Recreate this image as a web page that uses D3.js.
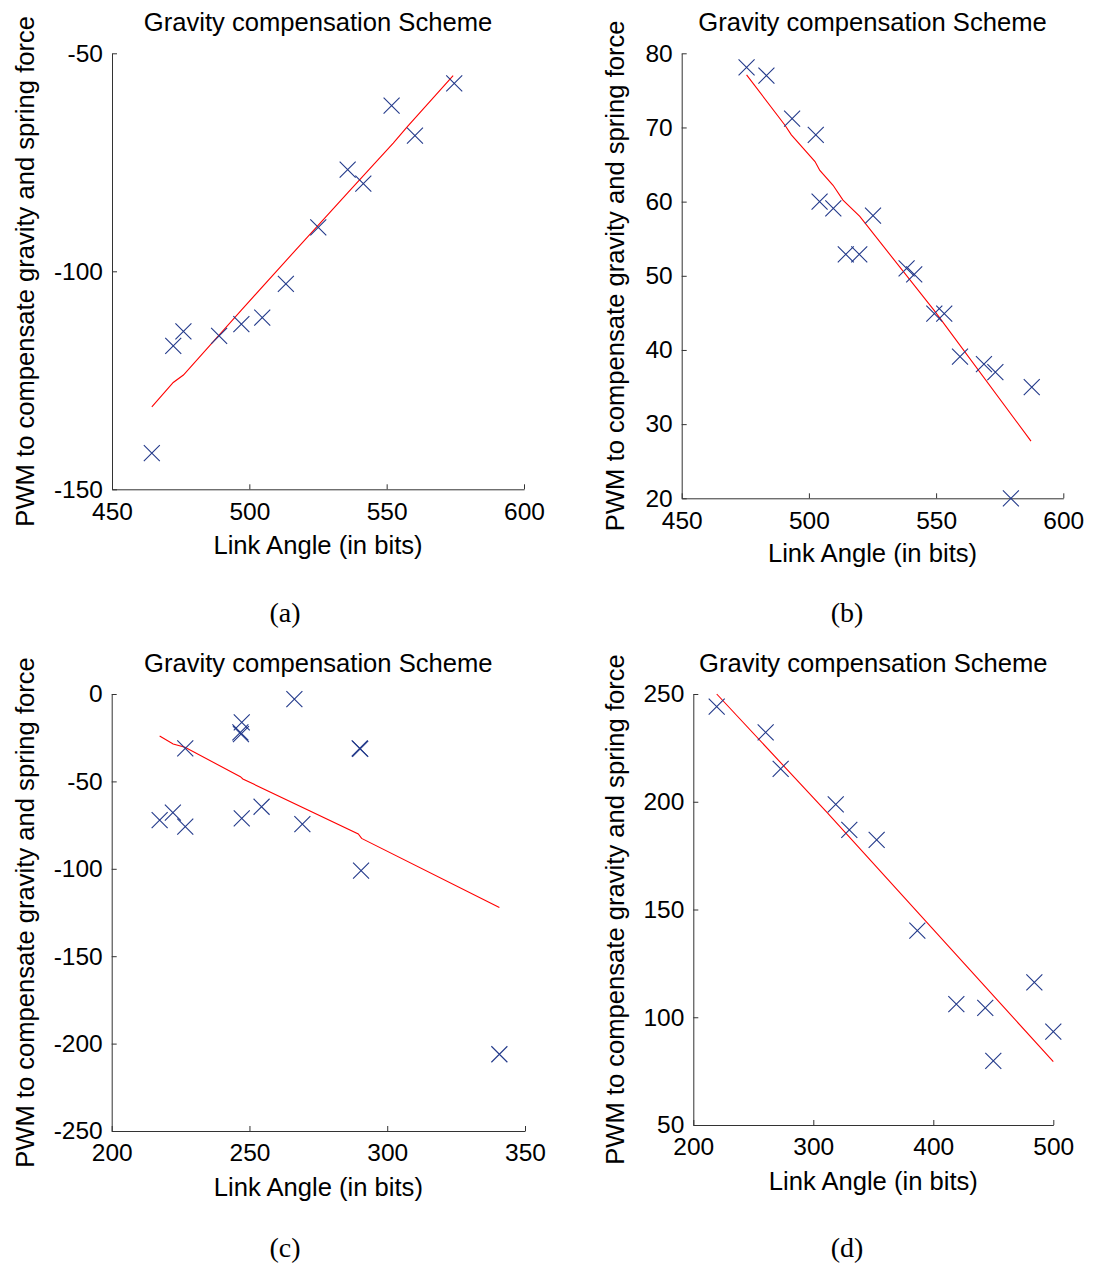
<!DOCTYPE html>
<html>
<head>
<meta charset="utf-8">
<script src="https://cdn.jsdelivr.net/npm/d3@7"></script>
<style>
  html, body { margin: 0; padding: 0; background: #fff; }
  svg { display: block; }
  text { font-family: "Liberation Sans", Arial, Helvetica, sans-serif; fill: #000; }
  .caption { font-family: "Liberation Serif", "Times New Roman", serif; }
</style>
</head>
<body>
<script>
// ---- Panel (a) measurements ----
const aAngle = [574.6, 551.8, 560.3, 535.8, 541.5, 525.1, 513.3, 504.7, 497.1, 489.0, 476.0, 472.3, 464.5];
const aPwm   = [-56.9, -62.0, -68.9, -76.7, -79.9, -89.9, -102.9, -110.6, -112.1, -114.8, -113.8, -117.1, -141.7];
const aFitAngle = [464.5, 472.3, 476.0, 497.1, 513.3, 535.8, 552.4, 557.3, 574.2];
const aFitPwm   = [-131.1, -125.5, -123.8, -108.9, -97.6, -82.0, -70.6, -67.0, -55.1];
const aXTicks = [450, 500, 550, 600];
const aYTicks = [-150, -100, -50];

// ---- Panel (b) measurements ----
const bAngle = [475.5, 483.3, 493.4, 502.7, 504.2, 509.6, 525.2, 514.5, 519.8, 538.4, 541.4, 549.3, 553.2, 559.4, 568.8, 573.3, 587.6, 579.4];
const bPwm   = [78.1, 77.0, 71.2, 69.0, 60.0, 59.1, 58.1, 52.9, 52.9, 51.0, 50.2, 44.9, 44.9, 39.1, 38.1, 37.0, 35.0, 20.0];
const bFitAngle = [475.5, 490.6, 493.1, 502.4, 504.3, 509.5, 513.4, 520.0, 549.3, 587.3];
const bFitPwm   = [77.1, 70.3, 69.0, 65.4, 64.2, 62.2, 60.2, 58.0, 45.3, 27.7];
const bXTicks = [450, 500, 550, 600];
const bYTicks = [20, 30, 40, 50, 60, 70, 80];

// ---- Panel (c) measurements ----
const cAngle = [266.3, 247.2, 246.7, 246.9, 290.0, 290.2, 226.7, 217.4, 222.2, 226.7, 247.2, 254.4, 269.2, 290.5, 340.7];
const cPwm   = [-2.9, -16.2, -22.0, -23.0, -31.1, -31.4, -31.1, -72.1, -67.9, -75.9, -71.1, -64.5, -74.5, -101.1, -206.1];
const cFitAngle = [217.4, 222.3, 226.6, 246.7, 247.6, 289.5, 290.7, 340.7];
const cFitPwm   = [-24.0, -28.6, -30.5, -47.3, -48.6, -80.1, -82.6, -122.2];
const cXTicks = [200, 250, 300, 350];
const cYTicks = [-250, -200, -150, -100, -50, 0];

// ---- Panel (d) measurements ----
const dAngle = [219.5, 260.3, 272.8, 318.7, 330.0, 352.8, 386.7, 419.2, 443.3, 450.0, 484.2, 500.0];
const dPwm   = [244.1, 232.2, 215.3, 198.8, 186.9, 182.3, 140.2, 106.1, 104.3, 79.8, 116.2, 93.3];
const dFitAngle = [219.5, 311.2, 500.0];
const dFitPwm   = [250.0, 195.2, 79.4];
const dXTicks = [200, 300, 400, 500];
const dYTicks = [50, 100, 150, 200, 250];

const titleText = "Gravity compensation Scheme";
const xLabelText = "Link Angle (in bits)";
const yLabelText = "PWM to compensate gravity and spring force";

// Layout of each subplot (pixel box of the axes area) plus its data
const panels = [
  { caption: "(a)", box: { l: 112, r: 524, t: 53.3, b: 489.3 }, xDom: [450, 600], yDom: [-150, -50],
    xs: aAngle, ys: aPwm, fx: aFitAngle, fy: aFitPwm, xt: aXTicks, yt: aYTicks,
    titleY: 22, xLabY: 545, yLabX: 25, capY: 612, capX: 285 },
  { caption: "(b)", box: { l: 681.7, r: 1063.3, t: 53.3, b: 498.3 }, xDom: [450, 600], yDom: [20, 80],
    xs: bAngle, ys: bPwm, fx: bFitAngle, fy: bFitPwm, xt: bXTicks, yt: bYTicks,
    titleY: 22, xLabY: 553, yLabX: 615, capY: 612, capX: 847 },
  { caption: "(c)", box: { l: 111.7, r: 525, t: 694, b: 1131 }, xDom: [200, 350], yDom: [-250, 0],
    xs: cAngle, ys: cPwm, fx: cFitAngle, fy: cFitPwm, xt: cXTicks, yt: cYTicks,
    titleY: 663, xLabY: 1187, yLabX: 25, capY: 1247, capX: 285 },
  { caption: "(d)", box: { l: 693.3, r: 1053.3, t: 694, b: 1125 }, xDom: [200, 500], yDom: [50, 250],
    xs: dAngle, ys: dPwm, fx: dFitAngle, fy: dFitPwm, xt: dXTicks, yt: dYTicks,
    titleY: 663, xLabY: 1181, yLabX: 615, capY: 1247, capX: 847 }
];

const W = 1095, H = 1263;
const svg = d3.select("body").append("svg").attr("width", W).attr("height", H);

const TICK_FONT = 24.5;
const LABEL_FONT = 25.6;
const markerColor = "#22398a";
const axisColor = "#333";
const plainNumber = d => String(d);

panels.forEach(p => {
  const x = d3.scaleLinear().domain(p.xDom).range([p.box.l, p.box.r]);
  const y = d3.scaleLinear().domain(p.yDom).range([p.box.b, p.box.t]);
  const g = svg.append("g");

  // x axis (ticks point inward)
  const xAxis = d3.axisBottom(x).tickValues(p.xt).tickSizeInner(-5).tickSizeOuter(0).tickFormat(plainNumber);
  const gx = g.append("g").attr("transform", `translate(0,${p.box.b})`).call(xAxis);
  gx.select(".domain").attr("stroke", axisColor);
  gx.selectAll(".tick line").attr("stroke", axisColor);
  gx.selectAll(".tick text").attr("font-size", TICK_FONT).attr("font-family", "Liberation Sans, Arial, sans-serif")
    .attr("fill", "#000").attr("dy", "0.71em").attr("y", 13);

  // y axis (ticks point inward)
  const yAxis = d3.axisLeft(y).tickValues(p.yt).tickSizeInner(-5).tickSizeOuter(0).tickFormat(plainNumber);
  const gy = g.append("g").attr("transform", `translate(${p.box.l},0)`).call(yAxis);
  gy.select(".domain").attr("stroke", axisColor);
  gy.selectAll(".tick line").attr("stroke", axisColor);
  gy.selectAll(".tick text").attr("font-size", TICK_FONT).attr("font-family", "Liberation Sans, Arial, sans-serif")
    .attr("fill", "#000").attr("x", -9);

  // fitted line
  const fit = p.fx.map((v, i) => [v, p.fy[i]]);
  g.append("path")
    .datum(fit)
    .attr("fill", "none")
    .attr("stroke", "#ff0000")
    .attr("stroke-width", 1.1)
    .attr("d", d3.line().x(d => x(d[0])).y(d => y(d[1])));

  // measured points as "x" markers
  const s = 8;
  const pts = p.xs.map((v, i) => [v, p.ys[i]]);
  g.append("g").selectAll("path.pt").data(pts).join("path")
    .attr("class", "pt")
    .attr("fill", "none")
    .attr("stroke", markerColor)
    .attr("stroke-width", 1.1)
    .attr("d", d => {
      const cx = x(d[0]), cy = y(d[1]);
      return `M${cx - s},${cy - s}L${cx + s},${cy + s}M${cx - s},${cy + s}L${cx + s},${cy - s}`;
    });

  const midX = (p.box.l + p.box.r) / 2;
  const midY = (p.box.t + p.box.b) / 2;

  g.append("text").attr("x", midX).attr("y", p.titleY).attr("dy", "0.35em")
    .attr("text-anchor", "middle").attr("font-size", LABEL_FONT).text(titleText);

  g.append("text").attr("x", midX).attr("y", p.xLabY).attr("dy", "0.35em")
    .attr("text-anchor", "middle").attr("font-size", LABEL_FONT).text(xLabelText);

  g.append("text").attr("transform", `translate(${p.yLabX},${midY}) rotate(-90)`).attr("dy", "0.35em")
    .attr("text-anchor", "middle").attr("font-size", LABEL_FONT).text(yLabelText);

  g.append("text").attr("class", "caption").attr("x", p.capX).attr("y", p.capY).attr("dy", "0.35em")
    .attr("text-anchor", "middle").attr("font-size", 28).text(p.caption);
});
</script>
</body>
</html>
